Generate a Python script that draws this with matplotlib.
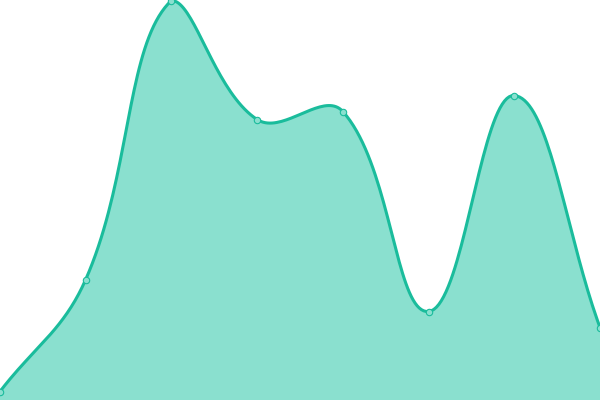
import numpy as np
import matplotlib
matplotlib.use("Agg")
import matplotlib.pyplot as plt

# values (0 = bottom edge, 400 = top edge)
labels = ["A", "B", "C", "D", "E", "F", "G", "H"]
values = [8.5, 120.5, 399.5, 280.5, 288.5, 88.5, 304.5, 72.5]

LINE_COLOR = "#1abc9c"
FILL_COLOR = "#8ae0cf"
W, H = 600, 400
TENSION = 0.4


def spline_path(px, py, tension=TENSION, steps=40):
    # cardinal-like spline, control points kept inside the plot area
    n = len(px)
    ctrl = []
    for i in range(n):
        x0, y0 = (px[i - 1], py[i - 1]) if i > 0 else (px[i], py[i])
        x1, y1 = px[i], py[i]
        x2, y2 = (px[i + 1], py[i + 1]) if i < n - 1 else (px[i], py[i])
        d01 = np.hypot(x1 - x0, y1 - y0)
        d12 = np.hypot(x2 - x1, y2 - y1)
        tot = d01 + d12
        s01 = d01 / tot if tot else 0
        s12 = d12 / tot if tot else 0
        fa, fb = tension * s01, tension * s12
        cp_prev = [x1 - fa * (x2 - x0), y1 - fa * (y2 - y0)]
        cp_next = [x1 + fb * (x2 - x0), y1 + fb * (y2 - y0)]
        for cp in (cp_prev, cp_next):
            cp[0] = min(max(cp[0], 0), W)
            cp[1] = min(max(cp[1], 0), H)
        ctrl.append((cp_prev, cp_next))
    xs, ys = [], []
    t = np.linspace(0, 1, steps)
    for i in range(n - 1):
        p0 = np.array([px[i], py[i]])
        p1 = np.array(ctrl[i][1])
        p2 = np.array(ctrl[i + 1][0])
        p3 = np.array([px[i + 1], py[i + 1]])
        b = ((1 - t) ** 3)[:, None] * p0 + (3 * (1 - t) ** 2 * t)[:, None] * p1 \
            + (3 * (1 - t) * t ** 2)[:, None] * p2 + (t ** 3)[:, None] * p3
        xs.extend(b[:, 0])
        ys.extend(b[:, 1])
    return np.array(xs), np.array(ys)


idx = np.arange(len(labels))
sx = W / (len(labels) - 1)
px = idx * sx
py = np.array(values, dtype=float)
cx, cy = spline_path(px, py)

fig = plt.figure(figsize=(6, 4), dpi=100)
ax = fig.add_axes([0, 0, 1, 1])
ax.fill_between(cx / sx, cy, 0, color=FILL_COLOR, linewidth=0)
ax.plot(cx / sx, cy, color=LINE_COLOR, linewidth=2.2, solid_capstyle="round")
ax.plot(idx, values, "o", markersize=4.6, markerfacecolor=FILL_COLOR,
        markeredgecolor=LINE_COLOR, markeredgewidth=0.8, clip_on=False)
ax.set_xlim(0, len(labels) - 1)
ax.set_ylim(0, H)
ax.axis("off")
fig.savefig("out.png", dpi=100)
